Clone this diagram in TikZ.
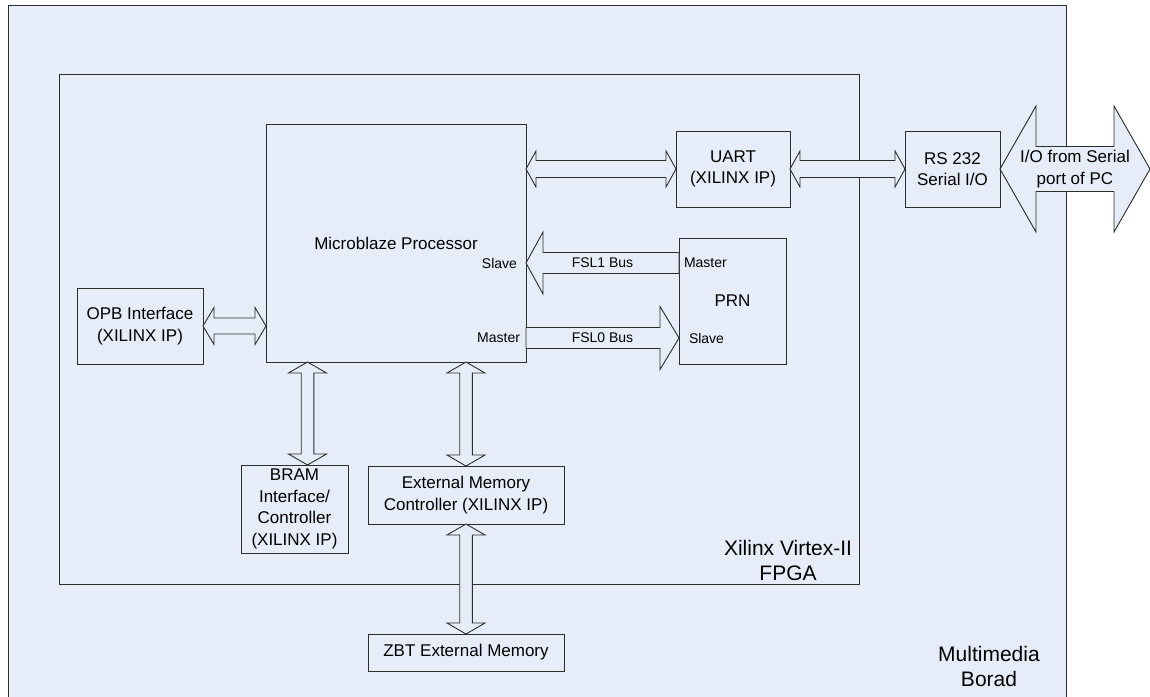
\documentclass[tikz,border=0pt]{standalone}
\usepackage{fontspec}
\setmainfont{Liberation Sans}
\usetikzlibrary{positioning, calc}

\definecolor{boardbg}{RGB}{230,237,248}
\definecolor{edge}{RGB}{45,45,45}

% double bus arrow: #1 end, #2 end, #3 shaft half, #4 head half, #5 head length
\newcommand{\dbus}[5]{%
  \draw[bus] (#1) -- ($(#1)!#5!(#2)!#4!90:(#2)$) -- ($(#1)!#5!(#2)!#3!90:(#2)$)
    -- ($(#2)!#5!(#1)!#3!-90:(#1)$) -- ($(#2)!#5!(#1)!#4!-90:(#1)$) -- (#2)
    -- ($(#2)!#5!(#1)!#4!90:(#1)$) -- ($(#2)!#5!(#1)!#3!90:(#1)$)
    -- ($(#1)!#5!(#2)!#3!-90:(#2)$) -- ($(#1)!#5!(#2)!#4!-90:(#2)$) -- cycle;}
% single bus arrow: #1 tail, #2 tip
\newcommand{\sbus}[5]{%
  \draw[bus] ($(#1)!#3!90:(#2)$) -- ($(#2)!#5!(#1)!#3!-90:(#1)$)
    -- ($(#2)!#5!(#1)!#4!-90:(#1)$) -- (#2) -- ($(#2)!#5!(#1)!#4!90:(#1)$)
    -- ($(#2)!#5!(#1)!#3!90:(#1)$) -- ($(#1)!#3!-90:(#2)$) -- cycle;}

\begin{document}
\begin{tikzpicture}[
    x=1pt, y=-1pt,
    every node/.style={font=\fontsize{17}{21.5}\selectfont, align=center,
                       inner sep=0pt, outer sep=0pt},
    area/.style={draw=edge, fill=boardbg, line width=1pt},
    box/.style={draw=edge, fill=boardbg, line width=0.9pt},
    port/.style={font=\fontsize{14}{16}\selectfont},
    biglabel/.style={font=\fontsize{21}{25}\selectfont},
    bus/.style={draw=edge, fill=boardbg, line width=0.9pt, line join=miter}
  ]
    \useasboundingbox (0,0) rectangle (1150,696);
    \clip (0,0) rectangle (1150,696);

    \node[area, minimum width=1058, minimum height=700] (board) at (537,355) {};
    \node[area, minimum width=800, minimum height=510] (fpga) at (459,329) {};

    \node[box, minimum width=260, minimum height=238] (mb) at (396,243) {Microblaze Processor};
    \node[box, minimum width=114, minimum height=76] (uart) at (733,169) {UART\\(XILINX IP)};
    \node[box, minimum width=107, minimum height=126] (prn) at (732.5,301) {PRN};
    \node[box, minimum width=95, minimum height=76] (rs) at (952.5,169) {RS 232\\Serial I/O};
    \node[box, minimum width=126, minimum height=76] (opb) at (140,326) {OPB Interface\\(XILINX IP)};
    \node[box, minimum width=107, minimum height=88] (bram) at (294.5,509)
        {BRAM\\Interface/\\Controller\\(XILINX IP)};
    \node[box, minimum width=196, minimum height=58] (emc) at (466,495)
        {External Memory\\Controller (XILINX IP)};
    \node[box, minimum width=196, minimum height=37] (zbt) at (466,652.5) {ZBT External Memory};

    % bus end points
    \coordinate (uartin) at (mb.east |- uart.west);
    \coordinate (pc) at (1150,169);
    \coordinate (opbin) at (mb.west |- opb.east);
    \coordinate (bramtop) at ($(bram.north)+(13,0)$);
    \coordinate (brammb) at (mb.south -| bramtop);
    \coordinate (emcmb) at (mb.south -| emc.north);
    \coordinate (fsl1tail) at (prn.west |- 0,263);
    \coordinate (fsl1tip) at (mb.east |- 0,263);
    \coordinate (fsl0tail) at (mb.east |- 0,338);
    \coordinate (fsl0tip) at (prn.west |- 0,338);

    \dbus{uartin}{uart.west}{8.5pt}{18pt}{10pt}
    \dbus{uart.east}{rs.west}{8.5pt}{18pt}{10pt}
    \dbus{rs.east}{pc}{22.5pt}{63pt}{36pt}
    \dbus{opb.east}{opbin}{8pt}{18.5pt}{11pt}
    \dbus{brammb}{bramtop}{6.3pt}{19pt}{11pt}
    \dbus{emcmb}{emc.north}{6.3pt}{19pt}{11pt}
    \dbus{emc.south}{zbt.north}{6.3pt}{19pt}{11pt}
    \sbus{fsl1tail}{fsl1tip}{10.5pt}{31pt}{17pt}
    \sbus{fsl0tail}{fsl0tip}{10.5pt}{31.5pt}{19pt}

    \node[port] (fsl1lbl) at ($(fsl1tail)!0.5!(fsl1tip)$) {FSL1 Bus};
    \node[port] (fsl0lbl) at ($(fsl0tail)!0.5!(fsl0tip)$) {FSL0 Bus};
    \node (pclbl) at ($(rs.east)!0.5!(pc)$) {I/O from Serial\\port of PC};

    \node[port, anchor=east] (mbslave) at ($(fsl1tip)+(-9,0)$) {Slave};
    \node[port, anchor=east] (mbmaster) at ($(fsl0tail)+(-6,0)$) {Master};
    \node[port, anchor=west] (prnmaster) at ($(fsl1tail)+(5,0)$) {Master};
    \node[port, anchor=west] (prnslave) at ($(fsl0tip)+(10,0)$) {Slave};

    \node[biglabel] (fpgalbl) at (788,560) {Xilinx Virtex-II\\FPGA};
    \node[biglabel] (boardlbl) at (989,666) {Multimedia\\Borad};
  \end{tikzpicture}
\end{document}
